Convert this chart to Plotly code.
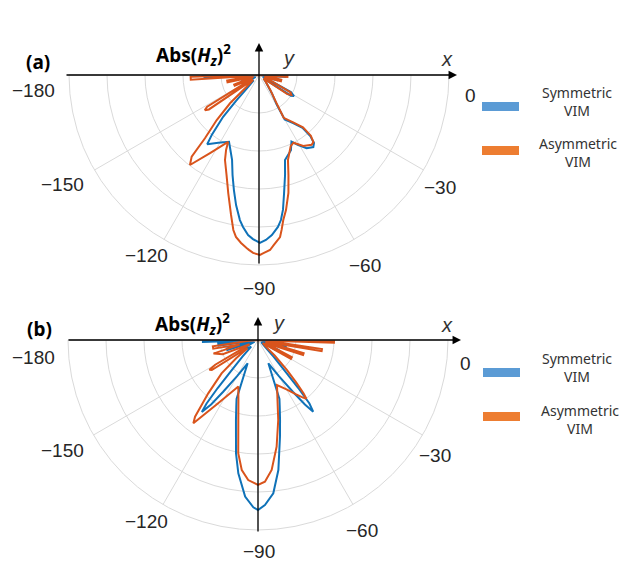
import plotly.graph_objects as go

W, H = 623, 565

# ---------------- data (theta in degrees, r normalised to outer ring = 1) ----------------
a_sym_theta = [0, -2, -4, -7, -13, -16, -20, -28, -31, -33, -37, -45, -55, -59, -60, -54.6, -50.5, -50, -51, -53,
               -57, -61, -64, -67, -73, -75.4, -78, -79.9, -81.4, -82.9, -85.4, -87.6, -89.7, -92.1, -93.9, -96,
               -97.5, -100, -102.3, -104.8, -107.6, -111.9, -114.2, -121, -126.8, -127.7, -128.3, -130.6, -131.7,
               -132, -135, -146, -148, -151, -160, -163, -169, -173, -177, -179.5, -180]
a_sym_r = [0, 0.14, 0.14, 0.02, 0.10, 0.10, 0.02, 0.19, 0.215, 0.20, 0.03, 0.05, 0.12, 0.18, 0.27, 0.31, 0.36, 0.42,
           0.46, 0.475, 0.46, 0.42, 0.39, 0.43, 0.468, 0.544, 0.635, 0.72, 0.772, 0.806, 0.845, 0.869, 0.884, 0.864,
           0.844, 0.804, 0.77, 0.695, 0.62, 0.545, 0.469, 0.41, 0.385, 0.416, 0.455, 0.42, 0.40, 0.29, 0.18, 0.10,
           0.04, 0.07, 0.08, 0.02, 0.10, 0.02, 0.12, 0.02, 0.28, 0.30, 0]

a_asym_theta = [0, -1, -4, -7, -12, -16, -20, -29, -31.5, -34, -38, -45, -53, -58, -60, -54, -50, -49.5, -51, -53,
                -58, -63, -66, -71.2, -73.6, -76, -78.7, -80.5, -81.7, -82.6, -85, -86.4, -88.4, -89.7, -91.9, -93.3,
                -94.1, -96.1, -98.1, -99.4, -101.3, -104.6, -108, -111.8, -113.7, -114.8, -122.1, -127.5, -129.5,
                -130.5, -133.2, -135.7, -136.5, -140, -144, -145.5, -147, -148.5, -151, -156, -159, -162, -167,
                -170, -173, -176, -178.5, -180]
a_asym_r = [0, 0.15, 0.15, 0.03, 0.12, 0.12, 0.03, 0.19, 0.20, 0.18, 0.03, 0.05, 0.10, 0.17, 0.26, 0.31, 0.36, 0.42,
            0.455, 0.46, 0.44, 0.40, 0.41, 0.473, 0.549, 0.64, 0.725, 0.774, 0.824, 0.86, 0.898, 0.923, 0.937,
            0.947, 0.937, 0.922, 0.913, 0.889, 0.861, 0.827, 0.751, 0.642, 0.553, 0.482, 0.431, 0.388, 0.485,
            0.597, 0.557, 0.438, 0.325, 0.213, 0.09, 0.04, 0.08, 0.32, 0.34, 0.32, 0.04, 0.14, 0.14, 0.03, 0.17,
            0.17, 0.03, 0.36, 0.36, 0]

b_sym_theta = [0, -2, -4, -7, -12, -15, -19, -26, -29, -33, -44, -47, -49, -50, -51, -52.4, -54, -56, -60, -66,
               -70, -72, -74.6, -77.2, -81.1, -84.3, -87.6, -90, -91.6, -94.7, -98.4, -101, -105.4, -108, -110,
               -114, -120, -124, -126, -128, -129, -130, -131, -133, -136, -147, -150, -154, -162, -165, -168,
               -172, -175, -176.5, -178, -179.5, -180]
b_sym_r = [0, 0.10, 0.10, 0.02, 0.15, 0.15, 0.02, 0.12, 0.12, 0.02, 0.05, 0.12, 0.22, 0.33, 0.43, 0.476, 0.42,
           0.33, 0.22, 0.134, 0.33, 0.37, 0.437, 0.522, 0.693, 0.811, 0.869, 0.895, 0.881, 0.827, 0.709, 0.607,
           0.437, 0.37, 0.33, 0.134, 0.22, 0.33, 0.42, 0.48, 0.43, 0.33, 0.22, 0.12, 0.05, 0.10, 0.10, 0.02,
           0.17, 0.17, 0.02, 0.21, 0.21, 0.02, 0.29, 0.29, 0]

b_asym_theta = [0, -0.5, -2, -5, -8, -10, -13, -16, -18.5, -22, -27, -30, -34, -40, -43, -46, -48, -49.5, -50.5,
                -52, -55, -60, -67.1, -72, -75.8, -80.1, -84, -87.2, -90, -94, -97.1, -99.9, -103.8, -108.2,
                -112.9, -122.9, -127.8, -129.4, -133, -137.5, -140, -142, -145, -147, -148.5, -150, -153, -158,
                -163, -166, -169, -172, -175, -180]
b_asym_r = [0, 0.40, 0.40, 0.05, 0.34, 0.34, 0.04, 0.25, 0.25, 0.04, 0.20, 0.20, 0.03, 0.05, 0.12, 0.22, 0.30,
            0.37, 0.40, 0.385, 0.35, 0.30, 0.257, 0.332, 0.434, 0.57, 0.688, 0.747, 0.763, 0.739, 0.69, 0.605,
            0.434, 0.33, 0.266, 0.407, 0.555, 0.522, 0.384, 0.26, 0.15, 0.07, 0.10, 0.29, 0.30, 0.26, 0.05,
            0.20, 0.245, 0.10, 0.24, 0.24, 0.05, 0]

angle_ticks = [180, 210, 240, 270, 300, 330]
angle_labels = ["\u2212180", "\u2212150", "\u2212120", "\u221290", "\u221260", "\u221230", "0"]
ring_ticks = [0.2, 0.4, 0.6, 0.8]
series_names = ["Symmetric<br>VIM", "Asymmetric<br>VIM"]

# ---------------- style ----------------
C_BLUE = "#0f72b8"
C_ORANGE = "#d9541c"
L_BLUE = "#5b9bd5"
L_ORANGE = "#ed7d31"
GRID = "#dadada"
R_PX = 190

def px(x, y):
    return x / W, 1 - y / H

fig = go.Figure()
panels = [
    ("polar", a_sym_theta, a_sym_r, a_asym_theta, a_asym_r),
    ("polar2", b_sym_theta, b_sym_r, b_asym_theta, b_asym_r),
]
for sub, t1, r1, t2, r2 in panels:
    fig.add_trace(go.Scatterpolar(theta=t1, r=r1, mode="lines", subplot=sub,
                                  line=dict(color=C_BLUE, width=2), showlegend=False))
    fig.add_trace(go.Scatterpolar(theta=t2, r=r2, mode="lines", subplot=sub,
                                  line=dict(color=C_ORANGE, width=2), showlegend=False))

def polar_layout(cx, cy):
    x0, y0 = px(cx - R_PX, cy + R_PX)
    x1, y1 = px(cx + R_PX, cy)
    return dict(
        domain=dict(x=[x0, x1], y=[y0, y1]),
        sector=[180, 360],
        bgcolor="white",
        angularaxis=dict(rotation=0, direction="counterclockwise", tickmode="array",
                         tickvals=angle_ticks, showticklabels=False, ticks="",
                         gridcolor=GRID, gridwidth=1, linecolor=GRID, linewidth=1, showline=True),
        radialaxis=dict(range=[0, 1], tickmode="array", tickvals=ring_ticks, showticklabels=False,
                        ticks="", showline=False, gridcolor=GRID, gridwidth=1),
    )

centers = [(259, 75), (258, 340)]
ann = []
shapes = []

tick_pos = [
    [(33, 91), (62, 184), (146, 255), (259, 288), (365, 265), (440, 188), (470, 95)],
    [(33, 357), (62, 450), (146, 521), (259, 551), (362, 530), (435, 455), (465, 363)],
]
panel_labels = ["(a)", "(b)"]
panel_label_pos = [(38, 62), (39, 329)]
title_pos = [(193, 55), (192, 324)]
ylab_pos = [(288, 58), (278, 323)]
xlab_pos = [(447, 59), (447, 325)]
hx = [(65, 457), (67, 461)]
vy = [(43, 265), (317, 533)]
leg = [dict(b=(482, 102), o=(482, 146), tb=(577, 102), to=(578, 152)),
       dict(b=(483, 368), o=(483, 412), tb=(577, 367), to=(580, 419))]

for i, (cx, cy) in enumerate(centers):
    for (tx, ty), lab in zip(tick_pos[i], angle_labels):
        xx, yy = px(tx, ty)
        ann.append(dict(x=xx, y=yy, xref="paper", yref="paper", text=lab, showarrow=False,
                        font=dict(family="Liberation Sans, Arial", size=19, color="#262626"),
                        xanchor="center", yanchor="middle"))
    xx, yy = px(*panel_label_pos[i])
    ann.append(dict(x=xx, y=yy, xref="paper", yref="paper", text="<b>" + panel_labels[i] + "</b>",
                    showarrow=False, font=dict(family="Noto Sans", size=19, color="black"),
                    xanchor="center", yanchor="middle"))
    xx, yy = px(*title_pos[i])
    ann.append(dict(x=xx, y=yy, xref="paper", yref="paper",
                    text="<b>Abs(<i>H</i><sub><i>z</i></sub>)<sup>2</sup></b>",
                    showarrow=False, font=dict(family="Noto Sans", size=19, color="black"),
                    xanchor="center", yanchor="middle"))
    xx, yy = px(*ylab_pos[i])
    ann.append(dict(x=xx, y=yy, xref="paper", yref="paper", text="<i>y</i>", showarrow=False,
                    font=dict(family="Liberation Sans", size=20, color="#333"),
                    xanchor="center", yanchor="middle"))
    xx, yy = px(*xlab_pos[i])
    ann.append(dict(x=xx, y=yy, xref="paper", yref="paper", text="<i>x</i>", showarrow=False,
                    font=dict(family="Liberation Sans", size=20, color="#333"),
                    xanchor="center", yanchor="middle"))
    # x axis arrow
    xx, yy = px(hx[i][1], cy)
    ann.append(dict(x=xx, y=yy, xref="paper", yref="paper", text="", showarrow=True,
                    ax=hx[i][0] - hx[i][1], ay=0, axref="pixel", ayref="pixel",
                    arrowhead=2, arrowsize=1.3, arrowwidth=1.3, arrowcolor="black", standoff=0))
    # y axis arrow
    xx, yy = px(cx, vy[i][0])
    ann.append(dict(x=xx, y=yy, xref="paper", yref="paper", text="", showarrow=True,
                    ax=0, ay=vy[i][1] - vy[i][0], axref="pixel", ayref="pixel",
                    arrowhead=2, arrowsize=1.3, arrowwidth=1.3, arrowcolor="black", standoff=0))
    # legend
    for key, col in (("b", L_BLUE), ("o", L_ORANGE)):
        lx, ly = leg[i][key]
        x0, y0 = px(lx, ly + 9)
        x1, y1 = px(lx + 37, ly)
        shapes.append(dict(type="rect", xref="paper", yref="paper", x0=x0, y0=y0, x1=x1, y1=y1,
                           fillcolor=col, line=dict(width=0)))
    for key, name in (("tb", series_names[0]), ("to", series_names[1])):
        xx, yy = px(*leg[i][key])
        ann.append(dict(x=xx, y=yy, xref="paper", yref="paper", text=name, showarrow=False,
                        font=dict(family="Noto Sans", size=14, color="#333"),
                        xanchor="center", yanchor="middle", align="center"))

fig.update_layout(
    width=W, height=H, autosize=False,
    margin=dict(l=0, r=0, t=0, b=0),
    paper_bgcolor="white", plot_bgcolor="white",
    polar=polar_layout(*centers[0]),
    polar2=polar_layout(*centers[1]),
    annotations=ann, shapes=shapes,
    showlegend=False,
)

fig.write_html("out.html", config={"displayModeBar": False},
               post_script="document.body.style.margin='0';document.body.style.overflow='hidden';")
